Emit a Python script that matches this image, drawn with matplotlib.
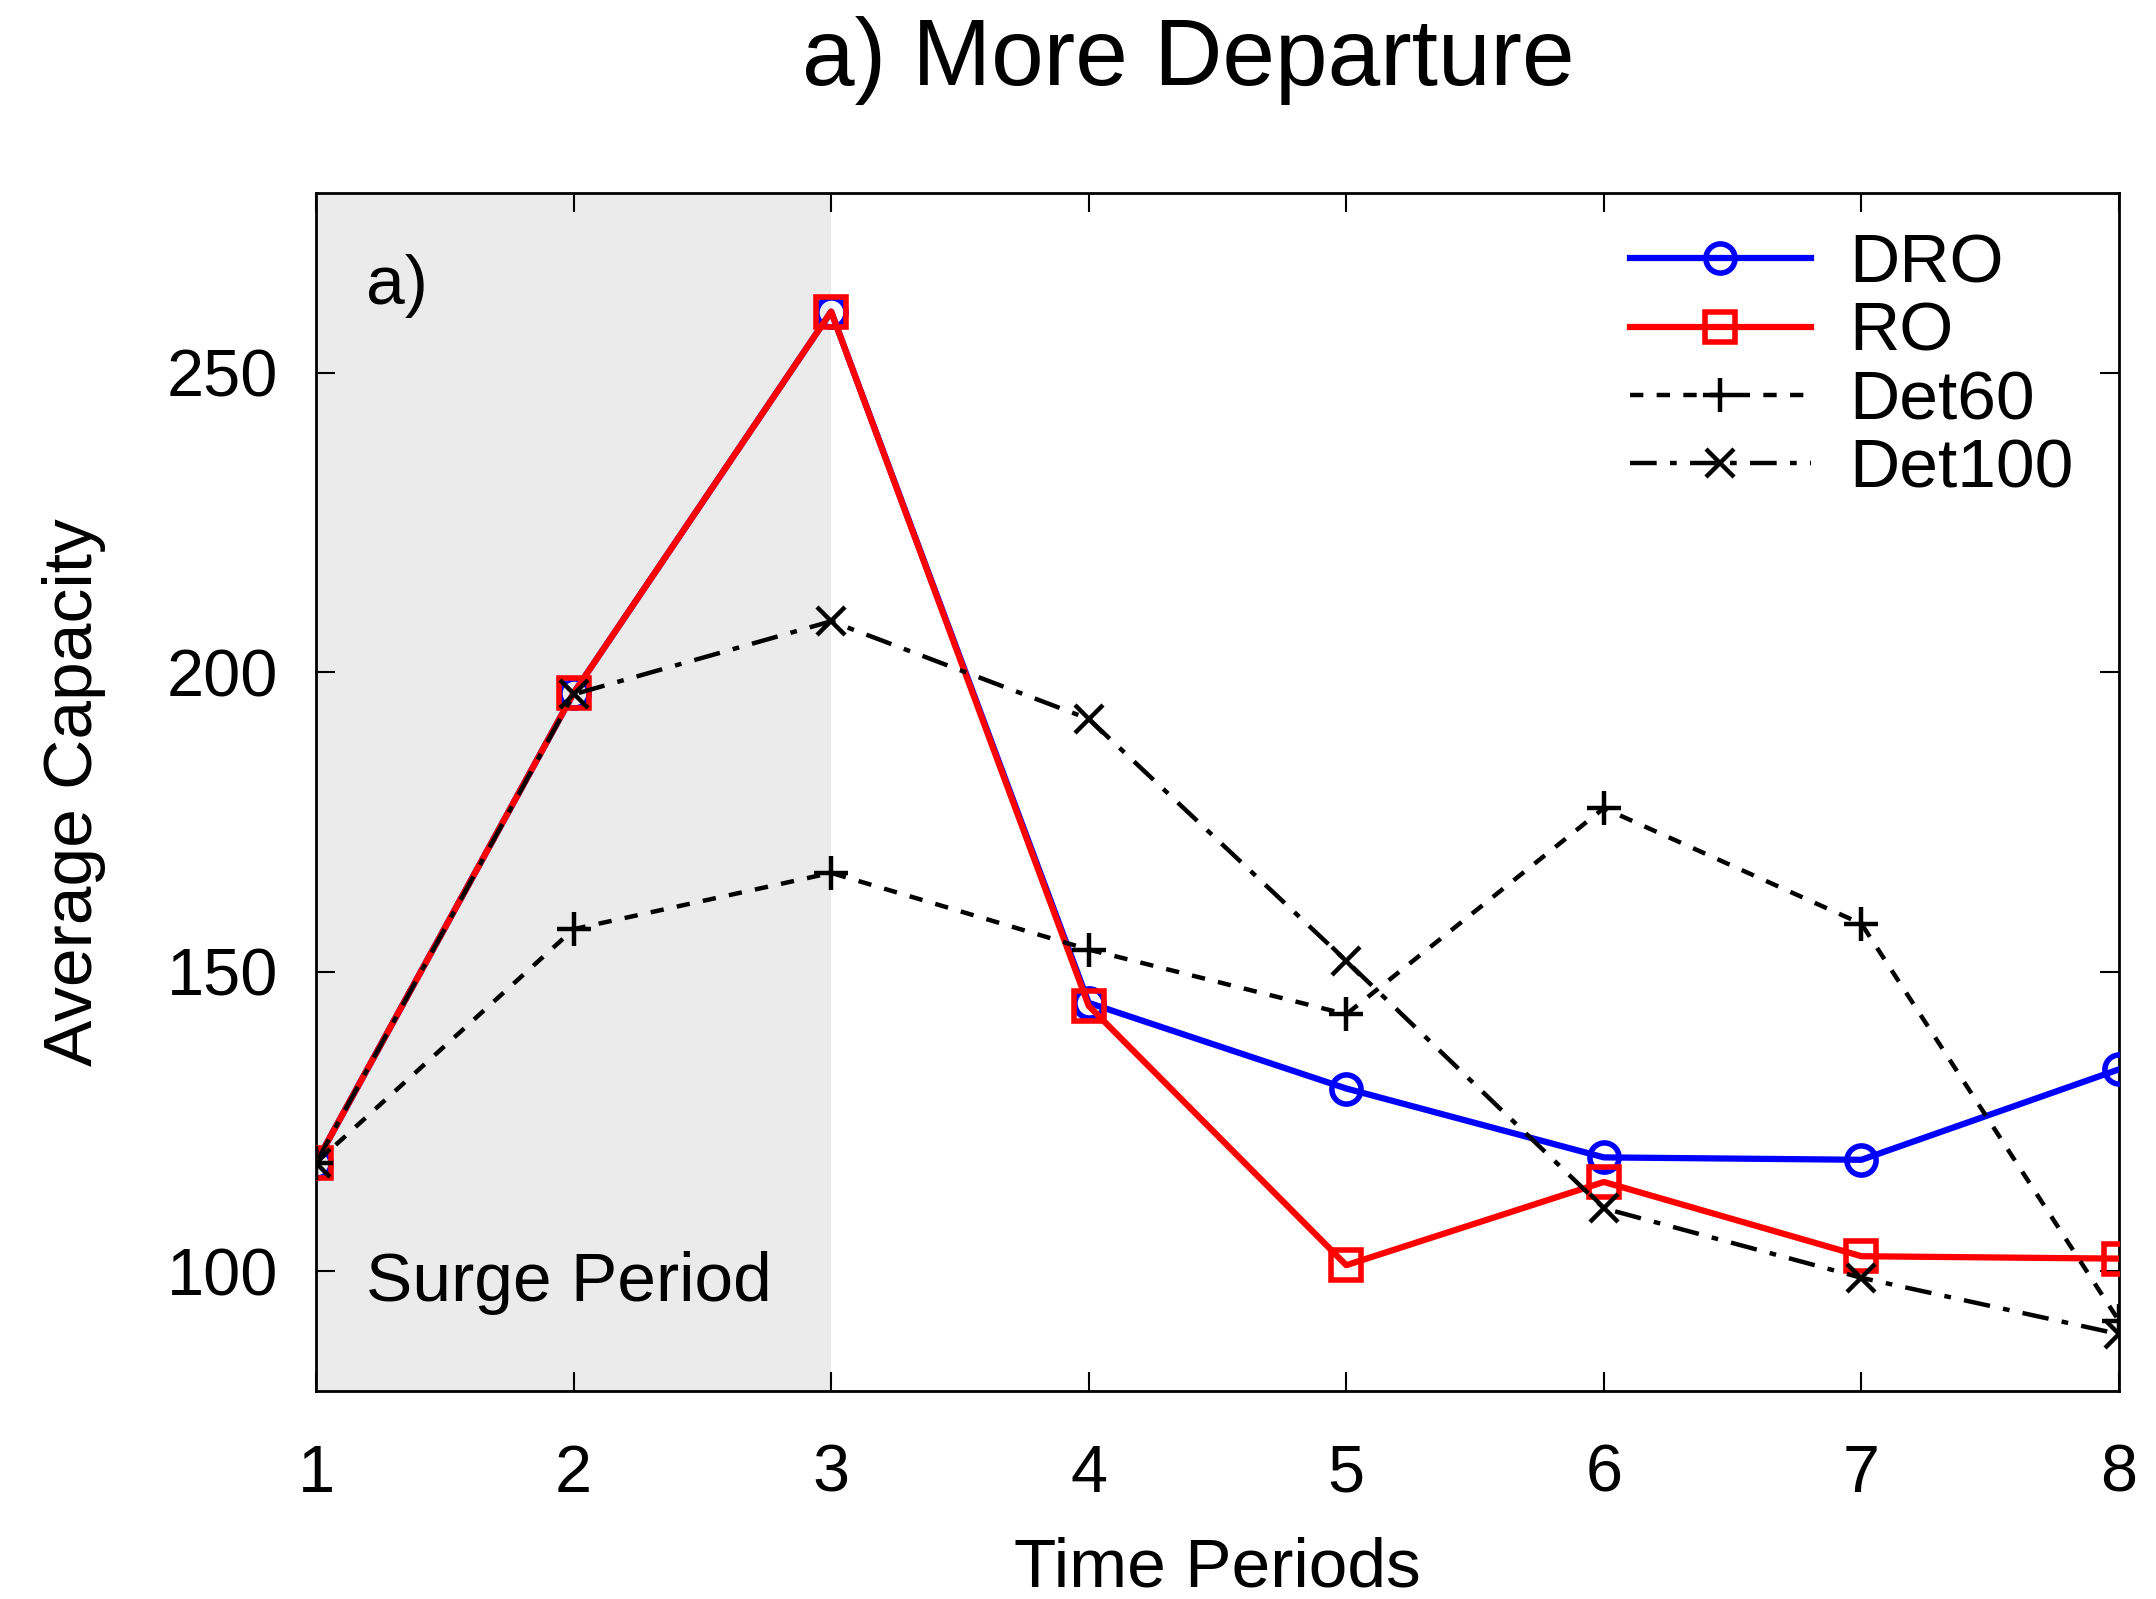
import matplotlib
matplotlib.use("Agg")
import matplotlib.pyplot as plt

plt.rcParams['font.family'] = ['Liberation Sans', 'DejaVu Sans']

periods = [1, 2, 3, 4, 5, 6, 7, 8]
dro = [118.1, 196.5, 260.2, 144.8, 130.5, 119.0, 118.6, 133.7]
ro = [118.1, 196.5, 260.2, 144.3, 101.0, 114.9, 102.5, 102.1]
det60 = [118.1, 157.1, 166.5, 153.7, 142.9, 177.3, 158.0, 91.7]
det100 = [118.1, 196.3, 208.5, 192.2, 151.8, 110.5, 98.9, 89.5]
yticks = [100, 150, 200, 250]

fig = plt.figure(figsize=(21.56, 15.99), dpi=100)
ax = fig.add_axes([316/2156, 1 - 1391/1599, (2119-316)/2156, (1391-193)/1599])

ax.axvspan(1, 3, color='#ebebeb', zorder=0, lw=0)

ax.plot(periods, dro, color='#0000ff', lw=4.5, marker='o', ms=21, mfc='none', mew=4, label='DRO', zorder=3)
ax.plot(periods, ro, color='#ff0000', lw=4.5, marker='s', ms=21, mfc='none', mew=4, label='RO', zorder=4)
ax.plot(periods, det60, color='black', lw=3.2, ls=(0, (3, 3)), marker='+', ms=24, mew=3.2, label='Det60', zorder=5)
ax.plot(periods, det100, color='black', lw=3.2, ls=(0, (6, 3, 1.5, 3)), marker='x', ms=20, mew=3.2, label='Det100', zorder=5)

ax.set_xlim(1, 8)
ax.set_ylim(80, 280)
ax.set_xticks(periods)
ax.set_yticks(yticks)
ax.tick_params(direction='in', length=14, width=1.5, top=True, right=True, labelsize=48)
ax.tick_params(axis='x', pad=38)
ax.tick_params(axis='y', pad=27)
for s in ax.spines.values():
    s.set_linewidth(2)

ax.set_xlabel('Time Periods', fontsize=50, labelpad=22)
ax.set_ylabel('Average Capacity', fontsize=50, labelpad=44)
fig.suptitle('a) More Departure', fontsize=68, x=864/1568, y=0.99)

ax.text(0.028, 0.922, 'a)', transform=ax.transAxes, fontsize=50, va='center', ha='left')
ax.text(0.028, 0.09, 'Surge Period', transform=ax.transAxes, fontsize=50, va='center', ha='left')

leg = ax.legend(loc='upper right', fontsize=50, frameon=False, handlelength=2.6,
                handletextpad=0.55, labelspacing=0.06, borderaxespad=0.0, bbox_to_anchor=(0.99, 0.99))

fig.savefig('out.png', dpi=100)
